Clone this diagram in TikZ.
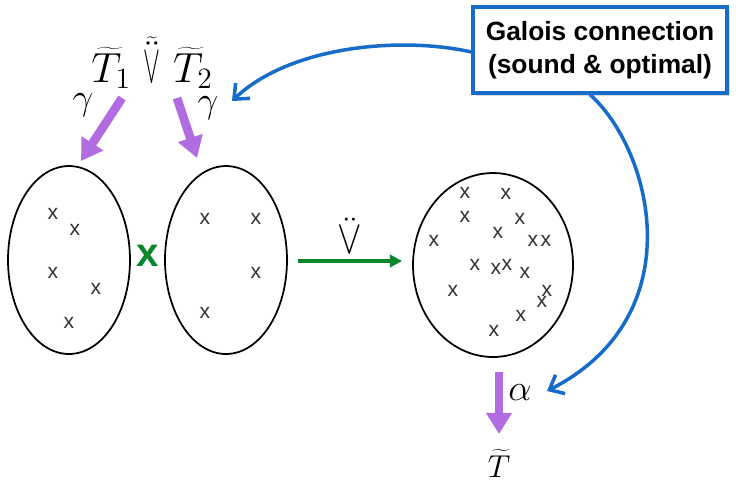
\RequirePackage{fix-cm}
\documentclass[tikz,border=0pt]{standalone}
\usepackage{fontspec}
\usepackage{xcolor}
\usepackage{tikz}
\usetikzlibrary{arrows.meta,positioning,calc,shapes.geometric,shadows}
\newfontfamily\labelfont{Liberation Sans}
\definecolor{gcblue}{RGB}{22,108,200}
\definecolor{mappurple}{RGB}{178,108,225}
\definecolor{opgreen}{RGB}{10,135,45}
\newcommand{\slimvee}[2]{\mbox{\scalebox{#1}[#2]{$\vee$}}}

\begin{document}
\begin{tikzpicture}[
  x=0.02cm, y=-0.02cm,
  set/.style={draw=black, line width=1pt, ellipse, inner sep=0pt},
  elem/.style={font=\labelfont\fontsize{12}{12}\selectfont, text=black!80, inner sep=0pt},
  map/.style={-{Triangle[length=12pt,width=14pt]}, line width=5pt, draw=mappurple},
  galois/.style={-{Straight Barb[length=7pt,width=12pt]}, line width=2pt, draw=gcblue, line cap=round},
  op/.style={-{Triangle[length=7pt,width=7pt]}, line width=2pt, draw=opgreen},
  note/.style={draw=gcblue, line width=1.8pt, fill=white, align=center, minimum width=5.08cm, minimum height=1.72cm,
    font=\labelfont\bfseries\fontsize{15}{19}\selectfont, drop shadow={opacity=0.3, shadow xshift=1.5pt, shadow yshift=-1.5pt}},
  math/.style={inner sep=0pt},
  greek/.style={inner sep=0pt, font=\fontsize{21}{24}\selectfont}
]
\useasboundingbox (0,0) rectangle (736,481);

\node[set, minimum width=2.44cm, minimum height=3.76cm] (left) at (69,260) {};
\node[set, minimum width=2.44cm, minimum height=3.76cm] (right) at (226,260) {};
\node[set, minimum width=3.2cm, minimum height=3.68cm] (prod) at (493,265) {};

\foreach \px/\py in {53/214, 75/230, 53/273, 96/289, 69/323}
  \node[elem] at (\px,\py) {x};
\foreach \px/\py in {205/219, 256/219, 256/273, 205/313}
  \node[elem] at (\px,\py) {x};
\foreach \px/\py in {465/193, 506/194, 465/217, 520/219, 434/241, 498/233, 533/241, 546/241,
  475/265, 496/269, 507/265, 525/273, 453/291, 547/291, 542/302, 521/316, 494/331}
  \node[elem] at (\px,\py) {x};

\node[text=opgreen, font=\labelfont\bfseries\fontsize{23}{23}\selectfont, inner sep=0pt] (times) at (148,256) {x};

\draw[op] (right.east) ++(10,1) -- ($(prod.west |- right.east)+(-10,1)$)
  node[midway, above=3pt, math, font=\fontsize{22}{24}\selectfont] (opvee) {$\ddot{\slimvee{0.95}{1.25}}$};

\node[math, anchor=base, font=\fontsize{24}{28}\selectfont] (top) at (152,82)
  {$\widetilde{T}_1\ \widetilde{\ddot{\slimvee{0.6}{1.3}}}\ \widetilde{T}_2$};
\node[greek] (gamma1) at (83,105) {$\gamma$};
\node[greek] (gamma2) at (208,108) {$\gamma$};

\coordinate (m1s) at (122,98);
\coordinate (m1e) at (81,161);
\coordinate (m2s) at (177,98);
\coordinate (m2e) at (197,158);
\draw[map] (m1s) -- (m1e);
\draw[map] (m2s) -- (m2e);

\coordinate (m3s) at (499,372);
\coordinate (m3e) at (499,434);
\draw[map] (m3s) -- (m3e);
\node[greek] (alpha) at (520,393) {$\alpha$};
\node[math, anchor=base, font=\fontsize{18}{20}\selectfont] (abs) at (499,477) {$\widetilde{T}$};

\node[note] (gc) at (600,50) {Galois connection\\(sound \& optimal)};

\coordinate (gtip) at (232,101);
\coordinate (atip) at (547,391);
\draw[galois] ([yshift=-0.04cm]gc.west) .. controls (400,36) and (290,46) .. (gtip);
\draw[galois] ([xshift=-0.2cm]gc.south) .. controls (652,150) and (694,316) .. (atip);
\end{tikzpicture}
\end{document}
